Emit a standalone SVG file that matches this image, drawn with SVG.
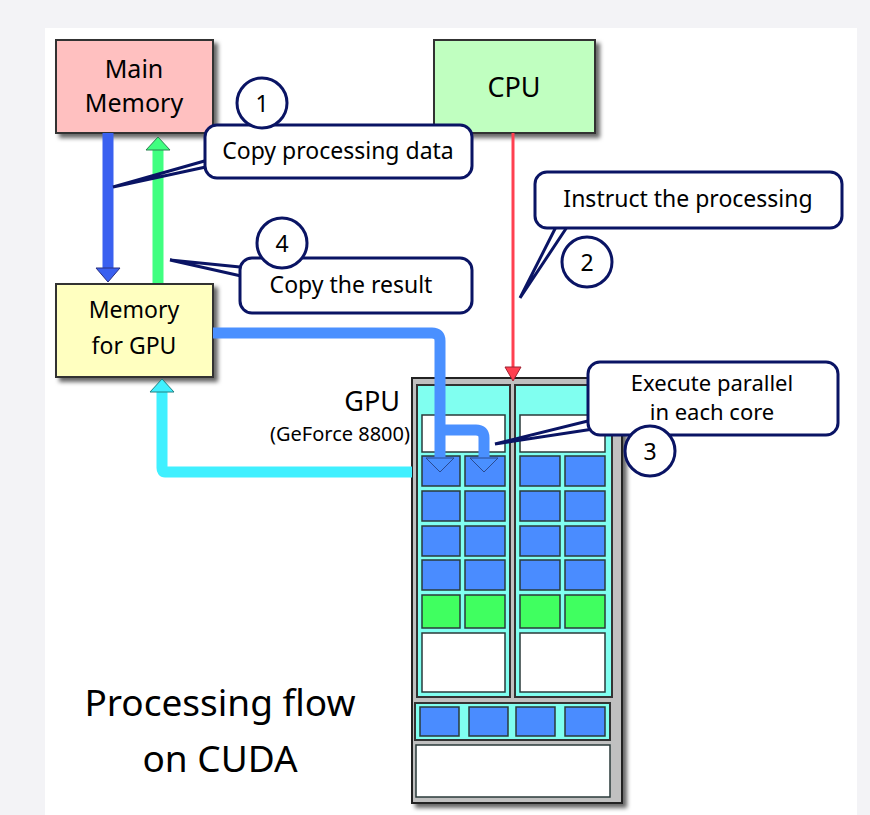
<svg xmlns="http://www.w3.org/2000/svg" width="870" height="815" viewBox="0 0 870 815">
<defs>
<filter id="sh" x="-10%" y="-10%" width="130%" height="130%"><feDropShadow dx="4" dy="4" stdDeviation="2" flood-color="#000" flood-opacity="0.6"/></filter>
</defs>
<style>
text{font-family:"Noto Sans","DejaVu Sans",sans-serif;fill:#000}
.box{stroke:#333;stroke-width:2;filter:url(#sh)}
.co{fill:#fff;stroke:#0a1464;stroke-width:3}
.b{fill:#4a8cff;stroke:#2a3a3a;stroke-width:1.5}
.g{fill:#40ff60;stroke:#2a3a3a;stroke-width:1.5}
.w{fill:#fff;stroke:#2a3a3a;stroke-width:1.5}
.cy{fill:#80fff0;stroke:#333;stroke-width:2}
.t{font-size:23px}
</style>
<rect width="870" height="815" fill="#f3f3f6"/>
<rect x="45" y="28" width="812" height="787" fill="#fff"/>
<g id="main-memory"><rect class="box" x="56" y="40" width="157" height="93" fill="#ffc0c0"/>
<text x="134" y="78" font-size="25" text-anchor="middle">Main</text><text x="134" y="112" font-size="25" text-anchor="middle">Memory</text></g>
<g id="cpu"><rect class="box" x="434" y="40" width="161" height="93" fill="#c0ffc0"/>
<text x="514" y="97" font-size="27" text-anchor="middle">CPU</text></g>
<g id="memory-gpu"><rect class="box" x="56" y="284" width="157" height="93" fill="#ffffc0"/>
<text x="134" y="318" class="t" text-anchor="middle">Memory</text><text x="134" y="354" class="t" text-anchor="middle">for GPU</text></g>
<g id="gpu">
<rect x="412" y="378" width="210" height="425" fill="#c0c0c0" stroke="#222" stroke-width="2" filter="url(#sh)"/>
<rect class="cy" x="417" y="385" width="93" height="312"/>
<rect class="cy" x="515" y="385" width="97" height="312"/>
<rect class="w" x="422" y="415" width="83" height="37"/>
<rect class="w" x="520" y="415" width="85" height="37"/>
<g id="cells">
<rect class="b" x="422" y="456" width="38" height="30"/><rect class="b" x="465" y="456" width="40" height="30"/>
<rect class="b" x="520" y="456" width="40" height="30"/><rect class="b" x="565" y="456" width="40" height="30"/>
<rect class="b" x="422" y="491" width="38" height="30"/><rect class="b" x="465" y="491" width="40" height="30"/>
<rect class="b" x="520" y="491" width="40" height="30"/><rect class="b" x="565" y="491" width="40" height="30"/>
<rect class="b" x="422" y="526" width="38" height="30"/><rect class="b" x="465" y="526" width="40" height="30"/>
<rect class="b" x="520" y="526" width="40" height="30"/><rect class="b" x="565" y="526" width="40" height="30"/>
<rect class="b" x="422" y="560" width="38" height="30"/><rect class="b" x="465" y="560" width="40" height="30"/>
<rect class="b" x="520" y="560" width="40" height="30"/><rect class="b" x="565" y="560" width="40" height="30"/>
<rect class="g" x="422" y="595" width="38" height="33"/><rect class="g" x="465" y="595" width="40" height="33"/>
<rect class="g" x="520" y="595" width="40" height="33"/><rect class="g" x="565" y="595" width="40" height="33"/>
<rect class="w" x="422" y="633" width="83" height="59"/><rect class="w" x="520" y="633" width="85" height="59"/>
</g>
<rect class="cy" x="415" y="703" width="195" height="37"/>
<rect class="b" x="420" y="707" width="39" height="29"/><rect class="b" x="469" y="707" width="39" height="29"/>
<rect class="b" x="516" y="707" width="39" height="29"/><rect class="b" x="565" y="707" width="40" height="29"/>
<rect class="w" x="416" y="745" width="194" height="52" stroke-width="2"/>
<text x="400" y="411" font-size="27" text-anchor="end">GPU</text>
<text x="410" y="441" font-size="20" text-anchor="end">(GeForce 8800)</text>
</g>
<g id="connectors">
<path d="M108,133 V268" stroke="#3a60f0" stroke-width="11" fill="none"/>
<path d="M96,268 L120,268 L108,282 Z" fill="#3a60f0" stroke="#2a3080"/>
<path d="M158,283 V150" stroke="#40ff80" stroke-width="11" fill="none"/>
<path d="M146,150 L170,150 L158,137 Z" fill="#40ff80" stroke="#2a8050"/>
<path d="M513,133 V368" stroke="#ff4050" stroke-width="3" fill="none"/>
<path d="M505,367 L521,367 L513,381 Z" fill="#ff4050" stroke="#a02030"/>
<path d="M213,333 H432 Q440,333 440,341 V462 M440,430 H476 Q484,430 484,438 V462" stroke="#4a90ff" stroke-width="11" fill="none" stroke-linejoin="round"/>
<path d="M426,458 L454,458 L440,472 Z M470,458 L498,458 L484,472 Z" fill="#4a90ff" stroke="#2a4a90"/>
<path d="M412,472 H165 Q162,472 162,468 V392" stroke="#40f0ff" stroke-width="11" fill="none" stroke-linejoin="round"/>
<path d="M150,392 L174,392 L162,379 Z" fill="#40f0ff" stroke="#208080"/>
</g>
<g id="callout-1">
<path d="M215,158 L113,187 L215,165" class="co"/>
<rect class="co" x="205" y="125" width="267" height="53" rx="12"/>
<text x="338" y="159" class="t" text-anchor="middle">Copy processing data</text>
<circle class="co" cx="262" cy="103" r="25"/><text x="262" y="112" class="t" text-anchor="middle">1</text>
</g>
<g id="callout-4">
<path d="M250,268 L170,260 L250,278" class="co"/>
<rect class="co" x="240" y="258" width="232" height="55" rx="12"/>
<text x="351" y="293" class="t" text-anchor="middle">Copy the result</text>
<circle class="co" cx="282" cy="243" r="25"/><text x="282" y="252" class="t" text-anchor="middle">4</text>
</g>
<g id="callout-2">
<path d="M562,215 L520,298 L575,215" class="co"/>
<rect class="co" x="535" y="172" width="307" height="56" rx="12"/>
<text x="688" y="207" class="t" text-anchor="middle">Instruct the processing</text>
<circle class="co" cx="587" cy="262" r="25"/><text x="587" y="271" class="t" text-anchor="middle">2</text>
</g>
<g id="callout-3">
<path d="M600,418 L495,444 L600,428" class="co"/>
<rect class="co" x="588" y="362" width="250" height="73" rx="12"/>
<text x="712" y="391" font-size="22" text-anchor="middle">Execute parallel</text>
<text x="712" y="420" font-size="22" text-anchor="middle">in each core</text>
<circle class="co" cx="650" cy="451" r="25"/><text x="650" y="460" class="t" text-anchor="middle">3</text>
</g>
<g id="title">
<text x="220" y="716" font-size="37" text-anchor="middle">Processing flow</text>
<text x="220" y="772" font-size="37" text-anchor="middle">on CUDA</text>
</g>
</svg>
